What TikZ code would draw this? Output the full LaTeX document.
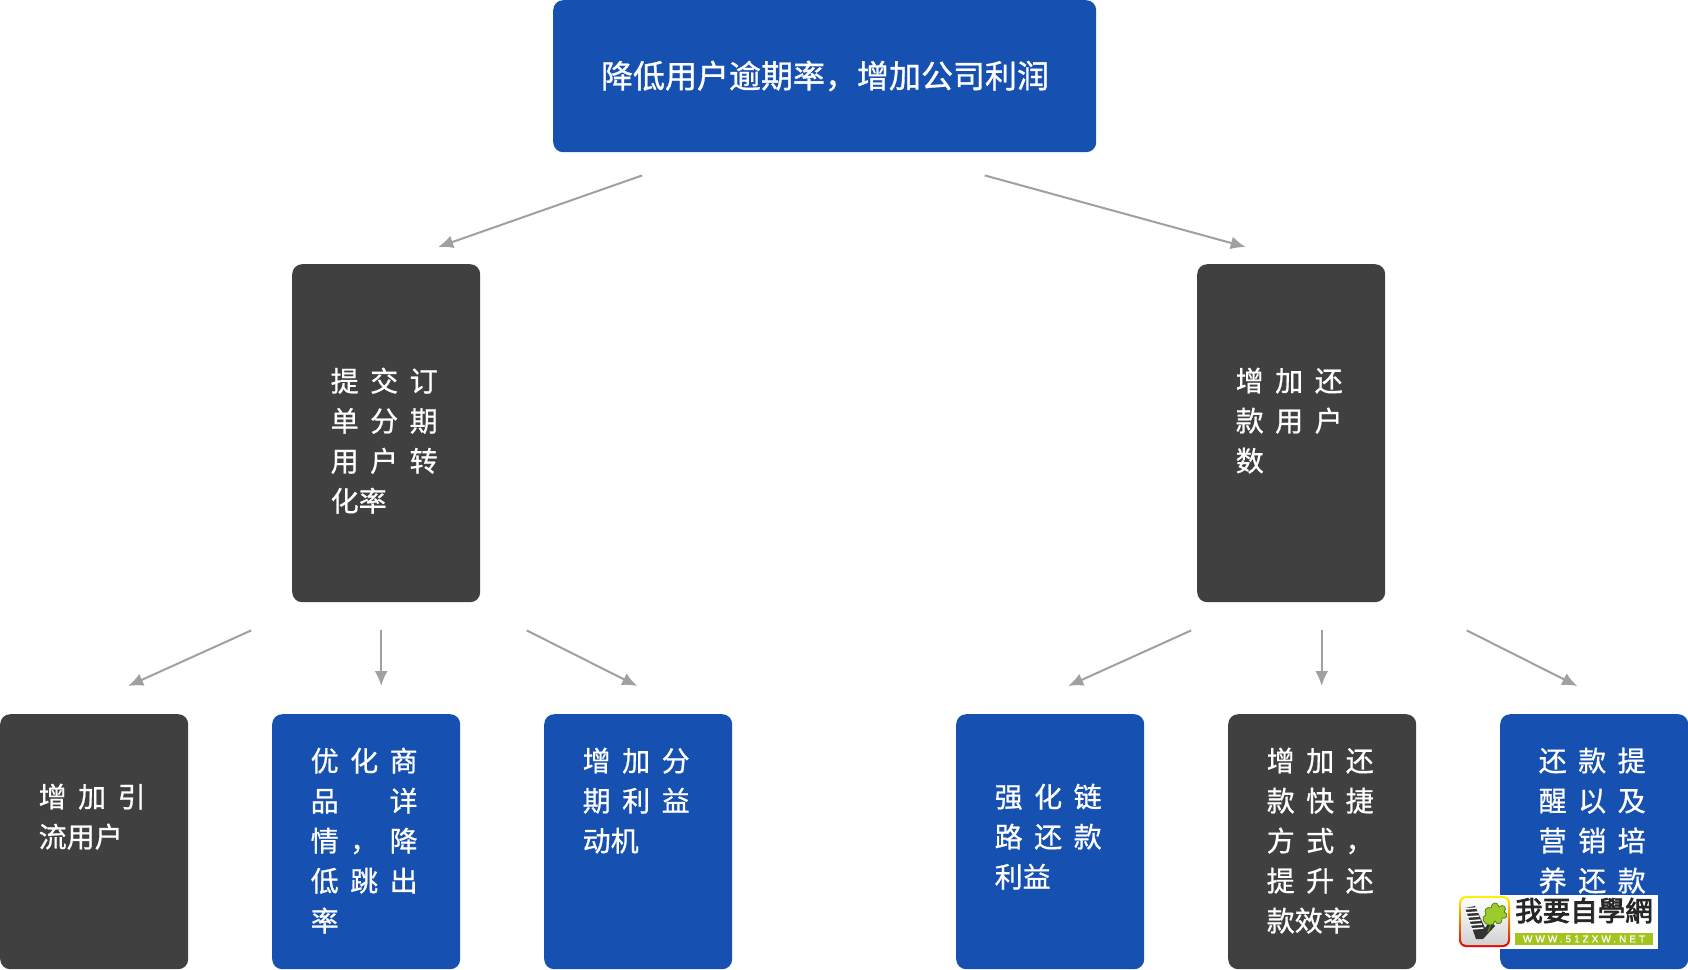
\documentclass[tikz,border=0pt]{standalone}
\usepackage{fontspec}
\setmainfont[FakeBold=0.8]{Noto Sans CJK SC}
\newfontfamily\cjkm[FakeBold=1]{Noto Sans CJK SC}
\newfontfamily\cjkb[FakeBold=3]{Noto Sans CJK TC}
\newfontfamily\latb[LetterSpace=30,FakeBold=1.2]{Liberation Sans}
\usetikzlibrary{arrows.meta,calc}
\newcommand\gp{\kern11.5pt}
\newcommand\blankcell{\kern28pt}
\definecolor{bluebox}{HTML}{1650B0}
\definecolor{darkbox}{HTML}{404040}
\definecolor{arrowgray}{HTML}{A0A0A0}
\definecolor{logogreen}{HTML}{A3C41E}
\definecolor{leafgreen}{HTML}{9CCB2B}
\definecolor{leafedge}{HTML}{4E7A12}
\tikzset{
 box/.style={rounded corners=10pt,minimum width=188pt,inner sep=0pt,anchor=north west},
 bluefill/.style={box,fill=bluebox},
 darkfill/.style={box,fill=darkbox},
 tall/.style={minimum height=338pt},
 short/.style={minimum height=255pt},
 lab/.style={anchor=north west,inner sep=0pt,align=left,text=white,font=\fontsize{28}{40}\selectfont},
 arr/.style={draw=arrowgray,line width=2pt,-{Latex[length=15pt,width=13pt]}}
}
\begin{document}
\begin{tikzpicture}[x=1pt,y=-1pt]
\useasboundingbox (0,0) rectangle (1688,969);
% boxes
\node[bluefill,minimum width=543pt,minimum height=152pt] (top) at (553,0) {};
\node[darkfill,tall] (lm) at (292,264) {};
\node[darkfill,tall] (rm) at (1197,264) {};
\node[darkfill,short] (b1) at (0,714) {};
\node[bluefill,short] (b2) at (272,714) {};
\node[bluefill,short] (b3) at (544,714) {};
\node[bluefill,short] (b4) at (956,714) {};
\node[darkfill,short] (b5) at (1228,714) {};
\node[bluefill,short] (b6) at (1500,714) {};
% labels
\node[inner sep=0pt,text=white,font=\fontsize{32}{40}\cjkm] (ttop) at (825,76) {降低用户逾期率，增加公司利润};
\node[lab] (tlm) at (330.5,367.5) {提\gp 交\gp 订\\单\gp 分\gp 期\\用\gp 户\gp 转\\化率};
\node[lab] (trm) at (1235.5,367.5) {增\gp 加\gp 还\\款\gp 用\gp 户\\数};
\node[lab] (tb1) at (38.5,783.5) {增\gp 加\gp 引\\流用户};
\node[lab] (tb2) at (310.5,747.5) {优\gp 化\gp 商\\品\gp\blankcell\gp 详\\情\gp ，\gp 降\\低\gp 跳\gp 出\\率};
\node[lab] (tb3) at (582.5,747.5) {增\gp 加\gp 分\\期\gp 利\gp 益\\动机};
\node[lab] (tb4) at (994.5,783.5) {强\gp 化\gp 链\\路\gp 还\gp 款\\利益};
\node[lab] (tb5) at (1266.5,747.5) {增\gp 加\gp 还\\款\gp 快\gp 捷\\方\gp 式\gp ，\\提\gp 升\gp 还\\款效率};
\node[lab] (tb6) at (1538.5,747.5) {还\gp 款\gp 提\\醒\gp 以\gp 及\\营\gp 销\gp 培\\养\gp 还\gp 款};
% connectors
\draw[arr] ([shift={(-182.5,23)}]top.south) -- ([shift={(52,-17)}]lm.north);
\draw[arr] ([shift={(160,23)}]top.south) -- ([shift={(-45.5,-17)}]rm.north);
\draw[arr] ([shift={(-135,28)}]lm.south) -- ([shift={(34,-28)}]b1.north);
\draw[arr] ([shift={(-5,28)}]lm.south) -- ([shift={(15,-28)}]b2.north);
\draw[arr] ([shift={(140.5,28)}]lm.south) -- ([shift={(-1,-28)}]b3.north);
\draw[arr] ([shift={(-100,28)}]rm.south) -- ([shift={(18,-28)}]b4.north);
\draw[arr] ([shift={(30.5,28)}]rm.south) -- ([shift={(-0.5,-28)}]b5.north);
\draw[arr] ([shift={(175.5,28)}]rm.south) -- ([shift={(-17,-28)}]b6.north);
% watermark logo
\fill[white] (1459,895) rectangle (1658,949);
\shade[rounded corners=7pt,top color=yellow!90!orange,bottom color=red!90!black] (1459,896) rectangle (1510,947);
\shade[rounded corners=5pt,top color=white,bottom color=black!18] (1461,898) rectangle (1508,945);
\fill[black!80] (1465,908) -- (1475,906) -- (1485,928) -- (1490,921) -- (1495,926) -- (1483,939) -- (1476,939) -- cycle;
\foreach \yy in {909,913,917,921,925,929}{\draw[white,line width=1.5pt] ({1464+(\yy-908)*0.35},\yy) -- ({1476+(\yy-908)*0.35},\yy-1);}
\draw[leafedge,line width=1.5pt] (1488,932) -- (1493,918);
\fill[leafgreen,draw=leafedge,line width=0.7pt] (1490,925) .. controls (1482,924) and (1481,916) .. (1486,915) .. controls (1483,910) and (1487,906) .. (1491,908) .. controls (1491,902) and (1498,901) .. (1499,907) .. controls (1503,903) and (1508,908) .. (1504,912) .. controls (1509,913) and (1507,920) .. (1502,918) .. controls (1503,924) and (1497,926) .. (1495,921) .. controls (1494,924) and (1492,925) .. (1490,925) -- cycle;
\node[inner sep=0pt,text=black!85,font=\fontsize{27.5}{27}\cjkb] (wmt) at (1584,910.5) {我要自學網};
\node[fill=logogreen,minimum width=138pt,minimum height=12pt,inner sep=0pt] (wmb) at (1584,939) {};
\node[inner sep=0pt,text=white,font=\latb\fontsize{10}{10}\selectfont] (wmu) at (wmb.center) {WWW.51ZXW.NET};
\end{tikzpicture}
\end{document}
